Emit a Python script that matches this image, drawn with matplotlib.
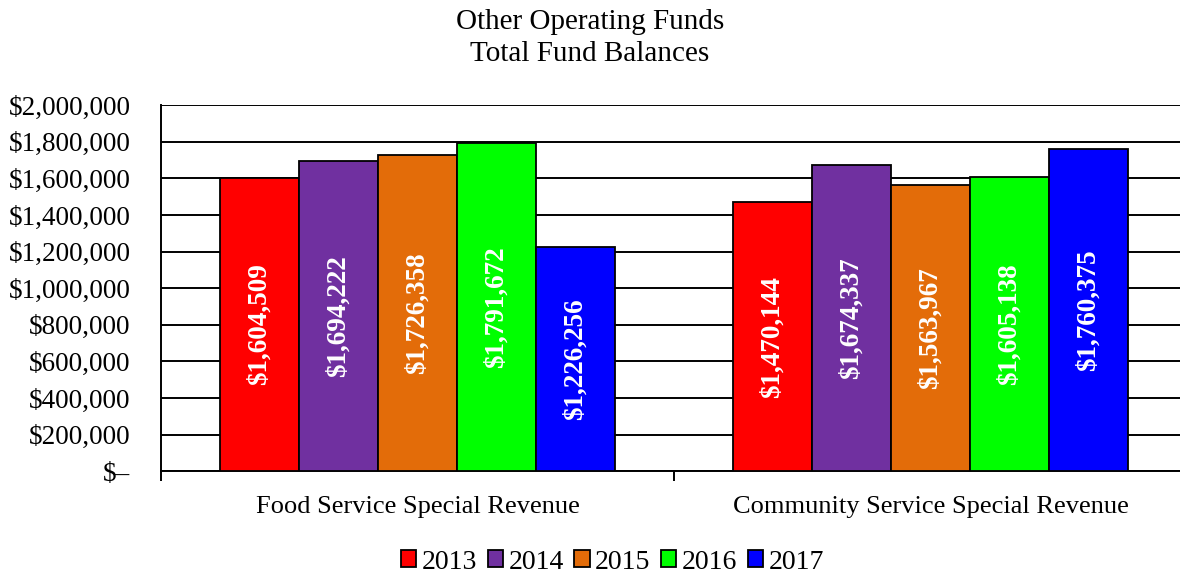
import matplotlib
matplotlib.use('Agg')
import matplotlib.pyplot as plt
import numpy as np

categories = ['Food Service Special Revenue', 'Community Service Special Revenue']
years = ['2013', '2014', '2015', '2016', '2017']
v2013 = [1604509, 1470144]
v2014 = [1694222, 1674337]
v2015 = [1726358, 1563967]
v2016 = [1791672, 1605138]
v2017 = [1226256, 1760375]
colors = ['#ff0000', '#7030a0', '#e36c09', '#00ff00', '#0000ff']

plt.rcParams['font.family'] = ['Liberation Serif', 'DejaVu Serif']

fig = plt.figure(figsize=(11.8, 5.81), dpi=100)
# the plot area runs a little past the right edge of the figure
ax = fig.add_axes([0.1364, 0.189, 0.8695, 0.630])

x = np.arange(len(categories))
width = 0.77 / len(years)
series = [v2013, v2014, v2015, v2016, v2017]
for i, (yr, vals) in enumerate(zip(years, series)):
    pos = x + (i - 2) * width
    bars = ax.bar(pos, vals, width, color=colors[i], edgecolor='black',
                  linewidth=1.3, label=yr, zorder=3)
    for b, v in zip(bars, vals):
        ax.text(b.get_x() + b.get_width() / 2, v / 2, f'${v:,.0f}',
                rotation=90, ha='center', va='center', color='white',
                fontsize=19.5, fontweight='bold', zorder=4)

ax.set_ylim(0, 2000000)
ax.set_xlim(-0.5, 1.5)
yt = np.arange(0, 2000001, 200000)
ax.set_yticks(yt)
ax.set_yticklabels(['$\u2013' if t == 0 else f'${t:,.0f}' for t in yt], fontsize=19.5)
ax.tick_params(axis='y', length=0, pad=22)
ax.yaxis.grid(True, color='black', linewidth=1.4, zorder=0)

ax.set_xticks([-0.5, 0.5, 1.5])
ax.set_xticklabels([])
ax.set_xticks(x, minor=True)
ax.set_xticklabels(categories, minor=True, fontsize=19)
ax.tick_params(axis='x', which='major', length=7, width=1.4, direction='out')
ax.tick_params(axis='x', which='minor', length=0, pad=18)

for s in ['top', 'right']:
    ax.spines[s].set_visible(False)
ax.spines['left'].set_linewidth(1.4)
ax.spines['bottom'].set_linewidth(1.4)

fig.suptitle('Other Operating Funds\nTotal Fund Balances', fontsize=21, y=0.985,
             linespacing=1.3)

fig.legend(loc='lower center', bbox_to_anchor=(0.519, -0.032), ncol=5, frameon=False,
           fontsize=20, handlelength=0.55, handleheight=0.55, handletextpad=0.2,
           columnspacing=0.38)

fig.savefig('out.png', dpi=100)
